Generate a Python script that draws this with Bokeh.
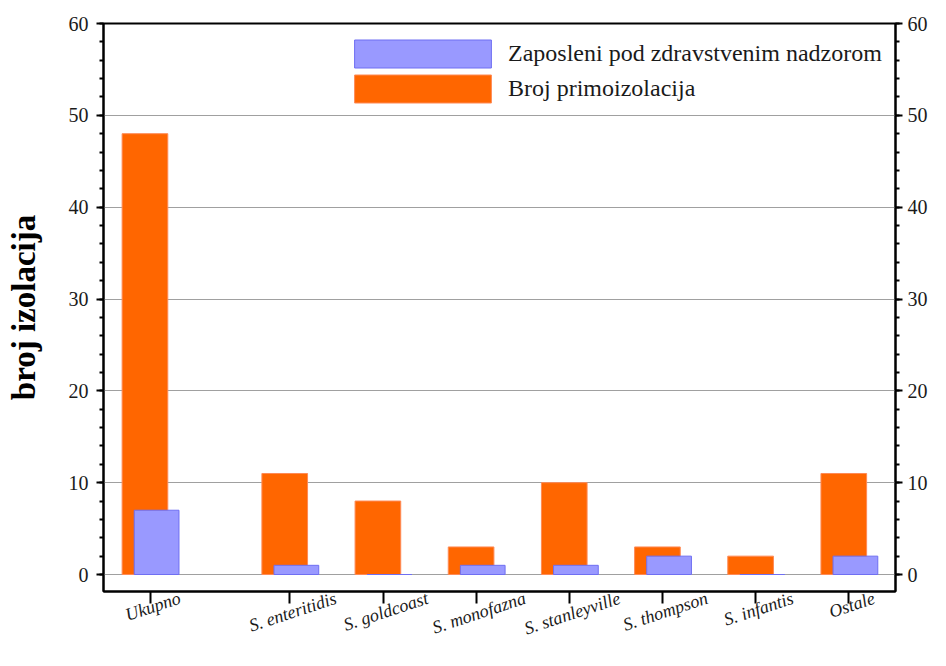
import math
from bokeh.plotting import figure
from bokeh.models import (Range1d, LinearAxis, FixedTicker, SingleIntervalTicker,
                          Legend, LegendItem, ColumnDataSource)
from bokeh.embed import file_html
from bokeh.resources import INLINE

categories = ["Ukupno", "S. enteritidis", "S. goldcoast", "S. monofazna",
              "S. stanleyville", "S. thompson", "S. infantis", "Ostale"]
broj_primoizolacija = [48, 11, 8, 3, 10, 3, 2, 11]
zaposleni = [7, 1, 0, 1, 1, 2, 0, 2]
y_ticks = [0, 10, 20, 30, 40, 50, 60]

# category slots: "Ukupno" first, then a gap, then the serotypes
xpos = [0.0] + [1.5 + i for i in range(len(categories) - 1)]

FONT = "Liberation Serif"
X_START, X_END = -0.5, 8.0
FRAME_W = 930 - 103 - 32
LABEL_SIZE = 18
LABEL_ANGLE = 0.32

# approximate advance widths (1/1000 em) of the serif italic face, used to
# centre the rotated (right-anchored) tick labels under their ticks
_W = {"S": 500, ".": 250, " ": 250, "e": 444, "n": 500, "t": 278, "r": 389,
      "i": 278, "d": 500, "s": 389, "g": 500, "o": 500, "l": 278, "c": 444,
      "a": 500, "m": 722, "f": 278, "z": 389, "y": 444, "v": 444, "h": 500,
      "p": 500, "U": 722, "k": 444, "O": 722, "u": 500}
px_per_unit = FRAME_W / (X_END - X_START)
def label_shift(name):
    w = sum(_W.get(ch, 500) for ch in name) * LABEL_SIZE / 1000.0
    return (w / 2.0 * math.cos(LABEL_ANGLE) + 3) / px_per_unit

label_pos = [x + label_shift(n) for x, n in zip(xpos, categories)]

p = figure(width=930, height=650, output_backend="svg", toolbar_location=None,
           x_range=Range1d(X_START, X_END), y_range=Range1d(-1.85, 60),
           min_border_left=103, min_border_right=32, min_border_top=23,
           min_border_bottom=57)
p.background_fill_color = "white"
p.border_fill_color = "white"
p.outline_line_color = "black"
p.outline_line_width = 2

src = ColumnDataSource(dict(
    xo=[x - 0.055 for x in xpos],
    xb=[x + 0.07 for x in xpos],
    primo=broj_primoizolacija,
    zap=zaposleni,
))

r_or = p.vbar(x="xo", top="primo", bottom=0, width=0.49, source=src,
              fill_color="#FF6600", line_color="#FF8A55", line_width=1)
r_bl = p.vbar(x="xb", top="zap", bottom=0, width=0.48, source=src,
              fill_color="#9999FF", line_color="#6F6FF2", line_width=1)

# grid
p.xgrid.visible = False
p.ygrid.ticker = FixedTicker(ticks=y_ticks)
p.ygrid.grid_line_color = "#a0a0a0"
p.ygrid.grid_line_width = 1

yt = SingleIntervalTicker(interval=10, num_minor_ticks=5)
def style_y(ax):
    ax.ticker = yt
    ax.axis_line_color = "black"
    ax.axis_line_width = 2
    ax.major_tick_in = 0
    ax.major_tick_out = 7
    ax.major_tick_line_width = 2
    ax.minor_tick_in = 0
    ax.minor_tick_out = 4
    ax.minor_tick_line_width = 2
    ax.major_label_text_font = FONT
    ax.major_label_text_font_size = "20px"
    ax.major_label_text_color = "#1a1a1a"

style_y(p.yaxis[0])
p.yaxis[0].major_label_standoff = 8
p.yaxis[0].axis_label = "broj izolacija"
p.yaxis[0].axis_label_text_font = FONT
p.yaxis[0].axis_label_text_font_size = "33px"
p.yaxis[0].axis_label_text_font_style = "bold"
p.yaxis[0].axis_label_text_color = "black"
p.yaxis[0].axis_label_standoff = 24

ry = LinearAxis()
style_y(ry)
ry.major_label_standoff = 5
p.add_layout(ry, "right")

# bottom axis: tick marks at the category slots (drawn as "minor" ticks),
# rotated labels carried by invisible major ticks so that they sit centred
xa = p.xaxis[0]
xa.ticker = FixedTicker(ticks=label_pos, minor_ticks=xpos)
xa.major_label_overrides = {lp: name for lp, name in zip(label_pos, categories)}
xa.axis_line_color = "black"
xa.axis_line_width = 2
xa.major_tick_line_color = None
xa.major_tick_in = 0
xa.major_tick_out = 0
xa.minor_tick_line_color = "black"
xa.minor_tick_line_width = 2
xa.minor_tick_in = 0
xa.minor_tick_out = 12
xa.major_label_orientation = LABEL_ANGLE
xa.major_label_text_font = FONT
xa.major_label_text_font_style = "italic"
xa.major_label_text_font_size = f"{LABEL_SIZE}px"
xa.major_label_text_color = "#1a1a1a"
xa.major_label_standoff = -6

legend = Legend(items=[
    LegendItem(label="Zaposleni pod zdravstvenim nadzorom", renderers=[r_bl]),
    LegendItem(label="Broj primoizolacija", renderers=[r_or]),
], location=(234, 485))
legend.margin = 0
legend.padding = 0
legend.spacing = 0
legend.glyph_width = 171
legend.glyph_height = 35
legend.label_standoff = 0
legend.label_text_font = FONT
legend.label_text_font_size = "24px"
legend.label_text_color = "#1a1a1a"
legend.background_fill_alpha = 0
legend.border_line_alpha = 0
p.add_layout(legend, "center")

open("out.html", "w").write(file_html(p, INLINE))
